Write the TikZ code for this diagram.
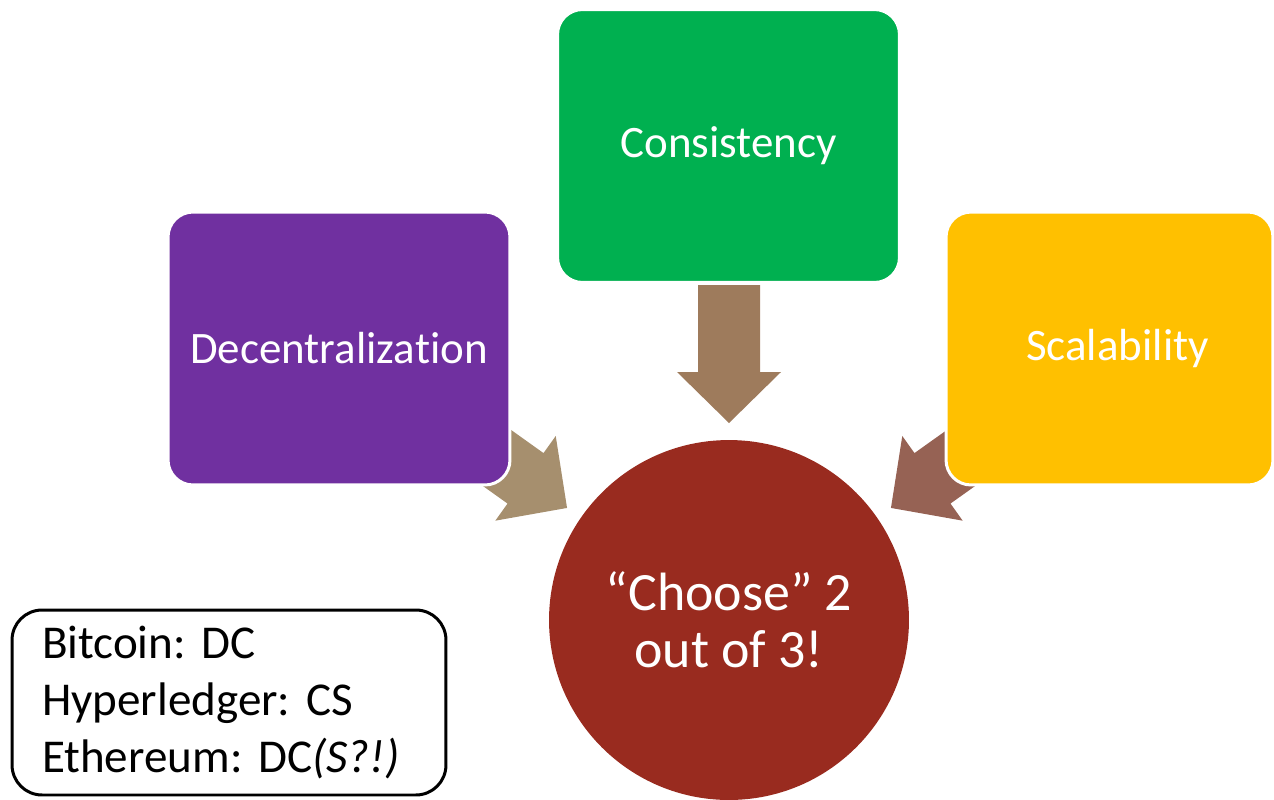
\documentclass[tikz,border=0pt]{standalone}
\usepackage{fontspec}
\setmainfont{Carlito}[Ligatures=NoCommon]
\usetikzlibrary{positioning}
\usepackage{xcolor}
\definecolor{plum}{HTML}{7030A0}
\definecolor{leaf}{HTML}{00B050}
\definecolor{amber}{HTML}{FFC000}
\definecolor{rust}{HTML}{992B1F}
\definecolor{khaki}{HTML}{A68F6E}
\definecolor{umber}{HTML}{9E7B5C}
\definecolor{cocoa}{HTML}{966254}
\frenchspacing

\tikzset{
  pillar/.style={rounded corners=0.5cm, draw=white, line width=0.06cm, minimum width=6.84cm, minimum height=5.46cm, text=white},
  blockarrow/.pic={\path[pic actions] (0,31) -- (87,31) -- (87,52) -- (138,0) -- (87,-52) -- (87,-31) -- (0,-31) -- cycle;}
}

\begin{document}
\begin{tikzpicture}[x=0.02cm, y=-0.02cm, every node/.style={font=\fontsize{25.6}{32.4}\selectfont}]
  \useasboundingbox (0,0) rectangle (1274,799);
  % arrows first, boxes cover their tails
  \pic[fill=umber, rotate=-90] at (729,285) {blockarrow};
  \pic[fill=khaki, rotate=-35.5] at (454.7,427.8) {blockarrow};
  \pic[fill=cocoa, rotate=-144.5] at (1003.3,427.8) {blockarrow};
  \node[pillar, fill=leaf] (cons) at (728.5,146) {Consistency};
  \node[pillar, fill=plum] (decent) at (339,348.5) {Decentralization};
  \node[pillar, fill=amber, minimum width=6.54cm] (scale) at (1109.5,348.5) {\hspace*{0.32cm}Scalability};
  \node[circle, fill=rust, text=white, minimum size=7.2cm, inner sep=0pt, align=center, font=\fontsize{30.7}{32.4}\selectfont] (choose) at (729,620) {“Choose” 2\\out of 3!};
  \node[draw=black, line width=0.06cm, rounded corners=0.6cm, minimum width=8.68cm, minimum height=3.7cm, text width=7.48cm, inner xsep=0.6cm, align=left, font=\fontsize{26.8}{32.4}\selectfont] (chains) at (229,702.5) {Bitcoin: DC\\Hyperledger: CS\\Ethereum: DC\textit{(S?!)}};
\end{tikzpicture}
\end{document}
